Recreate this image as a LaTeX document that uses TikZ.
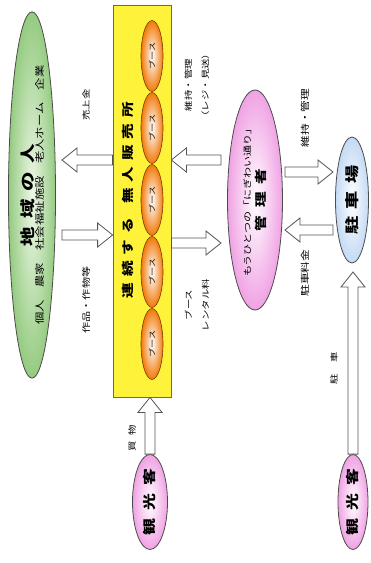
\documentclass[tikz,border=0pt]{standalone}
\usepackage{fontspec}
\newfontfamily\jp[FakeStretch=1.3]{Noto Sans CJK JP}
\usetikzlibrary{shapes.geometric,calc}
\definecolor{cGreenOut}{HTML}{94CB80}
\definecolor{cGreenIn}{HTML}{EEF7E8}
\definecolor{cYellow}{HTML}{FFF23A}
\definecolor{cYelLine}{HTML}{6E6E3A}
\definecolor{cOrange}{HTML}{F07A0A}
\definecolor{cBoothLine}{HTML}{7A3A00}
\definecolor{cPink}{HTML}{F0A2E4}
\definecolor{cBlue}{HTML}{C4DAF4}
\definecolor{cArrow}{HTML}{555555}
\newcommand{\kk}[1]{\hspace{#1pt}}
\newcommand{\fatarrow}[2]{%
 \draw[fatarr] let \p1=(#1), \p2=(#2), \n1={veclen(\x2-\x1,\y2-\y1)}, \n2={(\x2-\x1)/\n1}, \n3={(\y2-\y1)/\n1} in
 ({\x1-\n3*5pt},{\y1+\n2*5pt}) -- ({\x2-\n2*15pt-\n3*5pt},{\y2-\n3*15pt+\n2*5pt})
 -- ({\x2-\n2*15pt-\n3*12pt},{\y2-\n3*15pt+\n2*12pt}) -- (\x2,\y2)
 -- ({\x2-\n2*15pt+\n3*12pt},{\y2-\n3*15pt-\n2*12pt}) -- ({\x2-\n2*15pt+\n3*5pt},{\y2-\n3*15pt-\n2*5pt})
 -- ({\x1+\n3*5pt},{\y1-\n2*5pt}) -- cycle;}
\begin{document}
\begin{tikzpicture}[x=1pt,y=-1pt,font=\jp,
  ell/.style={ellipse, draw=black!70, line width=0.8pt, inner sep=0pt, rotate=90, align=center},
  lab/.style={rotate=90, font=\jp\fontsize{8}{17}\selectfont, align=center, inner sep=0pt, text=black},
  booth/.style={ellipse, draw=cBoothLine, line width=0.6pt, inner color=white, outer color=cOrange,
    minimum width=71pt, minimum height=22pt, rotate=90, inner sep=0pt, font=\jp\fontsize{7}{8}\selectfont},
  fatarr/.style={draw=cArrow, fill=white, line width=0.8pt, line join=miter}]
\useasboundingbox (0,0) rectangle (370,563);
\fill[white] (0,0) rectangle (370,563);

% left ellipse
\node[ell, minimum width=365pt, minimum height=47pt, inner color=cGreenIn, outer color=cGreenOut] (green) at (32,195)
 {{\fontsize{15}{18}\selectfont\bfseries 地\kk{8}域\kk{8}の\kk{8}人}\\[-2pt]{\fontsize{9.5}{11}\selectfont 個人　農家　社会福祉施設　老人ホーム　企業}};

% yellow box
\node[draw=cYelLine, fill=cYellow, line width=0.8pt, minimum width=58pt, minimum height=392pt, inner sep=0pt] (yel) at (142,201) {};
\node[rotate=90, inner sep=0pt, font=\jp\fontsize{12}{14}\selectfont\bfseries] (title) at (128,200)
 {連\kk{6}続\kk{6}す\kk{6}る\kk{14}無\kk{6}人\kk{6}販\kk{6}売\kk{6}所};
\node[booth] (b1) at (152,56) {ブース};
\node[booth] (b2) at (152,128) {ブース};
\node[booth] (b3) at (152,200) {ブース};
\node[booth] (b4) at (152,272) {ブース};
\node[booth] (b5) at (152,344) {ブース};

% pink manager ellipse
\node[ell, minimum width=220pt, minimum height=55pt, inner color=white, outer color=cPink] (pink) at (255,200)
 {{\fontsize{8.5}{10}\selectfont もうひとつの「にぎわい通り」}\\[3pt]{\fontsize{12}{14}\selectfont\bfseries 管\kk{8}理\kk{8}者}};

% parking
\node[ell, minimum width=126pt, minimum height=33pt, inner color=white, outer color=cBlue] (park) at (352,200)
 {\fontsize{14}{16}\selectfont\bfseries 駐\kk{7}車\kk{7}場};

% tourists
\node[ell, minimum width=95pt, minimum height=35pt, inner color=white, outer color=cPink] (tour1) at (150,502)
 {\fontsize{13}{15}\selectfont\bfseries 観\kk{8}光\kk{8}客};
\node[ell, minimum width=95pt, minimum height=30pt, inner color=white, outer color=cPink] (tour2) at (353,502)
 {\fontsize{13}{15}\selectfont\bfseries 観\kk{8}光\kk{8}客};

% arrow end coordinates near ellipses
\coordinate (g1) at (62,160);
\coordinate (g2) at (62,235);
\coordinate (p1) at (221,160);
\coordinate (p2) at (221,243);
\coordinate (p3) at (285,172);
\coordinate (p4) at (285,230);
\coordinate (k1) at (333,172);
\coordinate (k2) at (333,230);
\coordinate (k3) at (353,272);

% arrows
\fatarrow{yel.west |- g1}{g1}
\fatarrow{g2}{yel.west |- g2}
\fatarrow{p1}{yel.east |- p1}
\fatarrow{yel.east |- p2}{p2}
\fatarrow{p3}{k1}
\fatarrow{k2}{p4}
\fatarrow{tour2.east}{k3}
\fatarrow{tour1.east}{tour1.east |- yel.south}

% labels
\node[lab] (l1) at (86,105) {売上金};
\node[lab, font=\jp\fontsize{8.5}{17}\selectfont] (l2) at (86,300) {作品・作物等};
\node[lab] (l3) at (197,85) {維持・管理\\（レジ・見送）};
\node[lab] (l4) at (197,305) {ブース\\レンタル料};
\node[lab, font=\jp\fontsize{9}{17}\selectfont] (l5) at (305,118) {維持・管理};
\node[lab, font=\jp\fontsize{9}{17}\selectfont] (l6) at (305,273) {駐車料金};
\node[lab] (l7) at (334,368) {駐\kk{12}車};
\node[lab] (l8) at (132,438) {買\kk{6}物};
\end{tikzpicture}
\end{document}
